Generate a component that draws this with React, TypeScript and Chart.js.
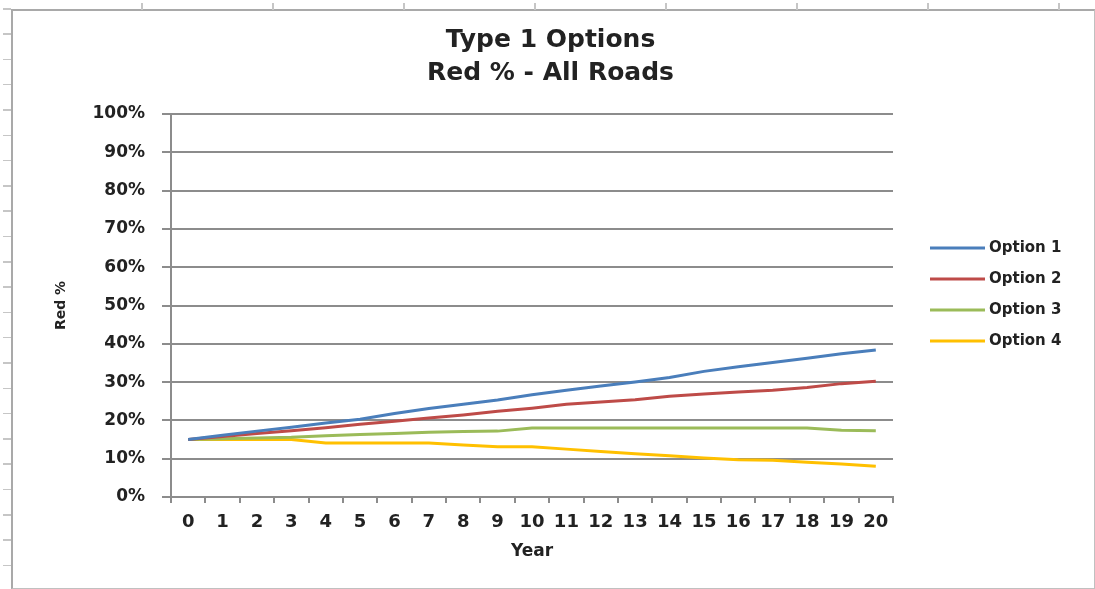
import React, { useEffect, useRef } from "react";
import { Chart, registerables } from "chart.js";

Chart.register(...registerables);

const years = ["0","1","2","3","4","5","6","7","8","9","10","11","12","13","14","15","16","17","18","19","20"];
const option1 = [15, 16.1, 17.2, 18.2, 19.3, 20.3, 21.8, 23.1, 24.2, 25.3, 26.7, 27.9, 29.0, 30.0, 31.2, 32.8, 34.0, 35.1, 36.2, 37.4, 38.4];
const option2 = [15, 15.8, 16.6, 17.3, 18.1, 19.0, 19.8, 20.6, 21.4, 22.4, 23.2, 24.2, 24.8, 25.4, 26.3, 26.9, 27.4, 27.9, 28.6, 29.6, 30.2];
const option3 = [15, 15.2, 15.4, 15.6, 16.0, 16.3, 16.6, 16.9, 17.1, 17.2, 18.0, 18.0, 18.0, 18.0, 18.0, 18.0, 18.0, 18.0, 18.0, 17.4, 17.3];
const option4 = [15, 15, 15, 15, 14.1, 14.1, 14.1, 14.1, 13.6, 13.1, 13.1, 12.5, 11.9, 11.3, 10.8, 10.2, 9.7, 9.6, 9.1, 8.6, 8.0];
const seriesNames = ["Option 1", "Option 2", "Option 3", "Option 4"];
const seriesColors = ["#4A7EBB", "#BE4B48", "#9BBB59", "#FFC000"];
const titleLines = ["Type 1 Options", "Red % - All Roads"];

const FONT = "'DejaVu Sans', sans-serif";
const TEXT = "#222222";
const GRID = "#8c8c8c";

const legendPlugin = {
  id: "sideLegend",
  afterDraw(chart: any) {
    const { ctx, chartArea } = chart;
    const x0 = chartArea.right + 37;
    const y0 = chartArea.top + 134;
    ctx.save();
    ctx.font = `bold 15px ${FONT}`;
    ctx.textBaseline = "middle";
    ctx.textAlign = "left";
    chart.data.datasets.forEach((ds: any, i: number) => {
      const y = y0 + i * 31;
      ctx.strokeStyle = ds.borderColor;
      ctx.lineWidth = 3;
      ctx.beginPath();
      ctx.moveTo(x0, y);
      ctx.lineTo(x0 + 55, y);
      ctx.stroke();
      ctx.fillStyle = TEXT;
      ctx.fillText(ds.label, x0 + 59, y);
    });
    ctx.restore();
  },
};

function SheetMarks() {
  const left = [];
  for (let k = 0; k < 23; k++) {
    left.push(
      <div key={"l" + k} style={{ position: "absolute", left: 3, top: 8 + k * 25.3, width: 8, height: 1.5, background: "#c6c6c6" }} />
    );
  }
  const top = [];
  for (let k = 0; k < 8; k++) {
    top.push(
      <div key={"t" + k} style={{ position: "absolute", left: 141 + k * 131, top: 3, width: 1.5, height: 7, background: "#c6c6c6" }} />
    );
  }
  return (
    <>
      {left}
      {top}
    </>
  );
}

export default function App() {
  const ref = useRef<HTMLCanvasElement>(null);
  useEffect(() => {
    document.body.style.margin = "0";
    document.body.style.overflow = "hidden";
    if (!ref.current) return;
    const all = [option1, option2, option3, option4];
    const chart = new Chart(ref.current, {
      type: "line",
      data: {
        labels: years,
        datasets: all.map((d, i) => ({
          label: seriesNames[i],
          data: d,
          borderColor: seriesColors[i],
          backgroundColor: seriesColors[i],
          borderWidth: 3,
          pointRadius: 0,
          tension: 0,
          fill: false,
        })),
      },
      options: {
        responsive: false,
        animation: false,
        layout: { padding: { left: 6, right: 0, top: 0, bottom: 0 } },
        plugins: {
          legend: { display: false },
          tooltip: { enabled: false },
          title: {
            display: true,
            text: titleLines,
            color: TEXT,
            font: { family: FONT, size: 25, weight: "bold", lineHeight: 1.32 },
            padding: { top: 24, bottom: 24 },
          },
        },
        scales: {
          x: {
            type: "category",
            offset: true,
            grid: {
              display: true,
              drawOnChartArea: false,
              drawTicks: true,
              tickLength: 6,
              color: GRID,
              lineWidth: 2,
              offset: true,
            },
            border: { display: true, color: GRID, width: 2 },
            ticks: {
              color: TEXT,
              font: { family: FONT, size: 18, weight: "bold" },
              padding: 9,
              maxRotation: 0,
              autoSkip: false,
            },
            title: {
              display: true,
              text: "Year",
              color: TEXT,
              font: { family: FONT, size: 17, weight: "bold", lineHeight: 1.2 },
              padding: { top: 0, bottom: 27 },
            },
            afterFit: (s: any) => { s.height = 92; },
          },
          y: {
            type: "linear",
            min: 0,
            max: 100,
            ticks: {
              stepSize: 10,
              color: TEXT,
              font: { family: FONT, size: 17, weight: "bold" },
              padding: 17,
              callback: (v: any) => `${v}%`,
            },
            grid: { color: GRID, lineWidth: 2, tickLength: 9, drawTicks: true },
            border: { display: true, color: GRID, width: 2 },
            title: {
              display: true,
              text: "Red %",
              color: TEXT,
              font: { family: FONT, size: 14, weight: "bold", lineHeight: 1.2 },
              padding: { top: 47, bottom: 0 },
            },
            afterFit: (s: any) => { s.width = 165; },
          },
          yRight: {
            type: "linear",
            position: "right",
            display: true,
            grid: { display: false, drawTicks: false },
            border: { display: false },
            ticks: { display: false },
            afterFit: (s: any) => { s.width = 202; },
          },
        },
      },
      plugins: [legendPlugin],
    } as any);
    return () => chart.destroy();
  }, []);

  return (
    <div style={{ position: "relative", width: 1095, height: 589, overflow: "hidden", background: "#fff" }}>
      <canvas ref={ref} width={1095} height={589} style={{ display: "block", width: 1095, height: 589 }} />
      <div
        style={{
          position: "absolute",
          left: 11,
          top: 9,
          width: 1084,
          height: 580,
          boxSizing: "border-box",
          borderTop: "2px solid #a9a9a9",
          borderLeft: "2px solid #a9a9a9",
          borderRight: "1px solid #c0c0c0",
          borderBottom: "1px solid #c0c0c0",
          pointerEvents: "none",
        }}
      />
      <SheetMarks />
    </div>
  );
}
